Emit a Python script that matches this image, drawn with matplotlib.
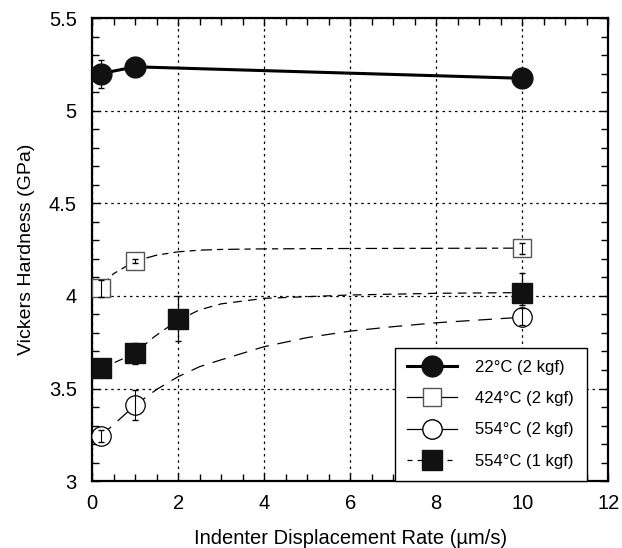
import matplotlib
matplotlib.use('Agg')
import matplotlib.pyplot as plt
from matplotlib.lines import Line2D
import numpy as np

plt.rcParams['font.family'] = ['Liberation Sans', 'DejaVu Sans']

# measured points
x_22 = [0.2, 1.0, 10.0]
y_22 = [5.2, 5.237, 5.175]
e_22 = [0.075, 0.0, 0.0]

x_424 = [0.2, 1.0, 10.0]
y_424 = [4.041, 4.19, 4.257]
e_424 = [0.045, 0.01, 0.028]

x_554_2 = [0.2, 1.0, 10.0]
y_554_2 = [3.245, 3.41, 3.888]
e_554_2 = [0.032, 0.08, 0.045]

x_554_1 = [0.2, 1.0, 2.0, 10.0]
y_554_1 = [3.611, 3.69, 3.877, 4.018]
e_554_1_lo = [0.0, 0.058, 0.118, 0.067]
e_554_1_hi = [0.0, 0.058, 0.122, 0.104]

# fitted curves
fx_424 = [0.2, 0.5, 1.0, 1.5, 2.0, 2.5, 3.0, 4.0, 6.0, 8.0, 10.0]
fy_424 = [4.05, 4.12, 4.188, 4.22, 4.238, 4.247, 4.251, 4.254, 4.256, 4.257, 4.258]

fx_554_1 = [0.2, 0.45, 1.0, 1.2, 1.45, 1.78, 2.0, 2.5, 3.0, 4.0, 6.0, 8.0, 10.0]
fy_554_1 = [3.612, 3.633, 3.69, 3.732, 3.78, 3.834, 3.868, 3.925, 3.957, 3.987, 4.005, 4.014, 4.018]

fx_554_2 = [0.2, 0.5, 1.0, 1.5, 2.0, 2.5, 3.0, 4.0, 5.0, 6.0, 7.0, 8.0, 10.0]
fy_554_2 = [3.245, 3.305, 3.41, 3.495, 3.564, 3.618, 3.655, 3.726, 3.775, 3.81, 3.834, 3.855, 3.885]

labels = ['22\u00b0C (2 kgf)', '424\u00b0C (2 kgf)', '554\u00b0C (2 kgf)', '554\u00b0C (1 kgf)']

fig = plt.figure(figsize=(6.22, 5.48), dpi=100)
ax = fig.add_axes([0.148, 0.122, 0.830, 0.845])

ax.grid(True, which='major', color='black', linestyle=(0, (2, 3)), linewidth=0.9)
ax.set_axisbelow(True)

# fit curves
ax.plot(fx_424, fy_424, color='black', lw=0.9, dashes=(9, 4, 5, 4), zorder=2)
ax.plot(fx_554_1, fy_554_1, color='black', lw=0.9, dashes=(7, 5), zorder=2)
ax.plot(fx_554_2, fy_554_2, color='black', lw=0.9, dashes=(11, 7), zorder=2)

# 22C
ax.plot(x_22, y_22, '-', color='black', lw=2.2, zorder=3)
ax.errorbar(x_22, y_22, yerr=e_22, fmt='none', ecolor='black', elinewidth=0.8, capsize=2.5, zorder=3)
ax.plot(x_22, y_22, 'o', color='#111111', ms=15, zorder=4)

# 424C
ax.plot(x_424, y_424, 's', mfc='white', mec='#555555', mew=1.0, ms=13, zorder=4)
ax.errorbar(x_424, y_424, yerr=e_424, fmt='none', ecolor='black', elinewidth=0.8, capsize=2.5, zorder=5)

# 554C 2 kgf
ax.plot(x_554_2, y_554_2, 'o', mfc='white', mec='black', mew=0.9, ms=14, zorder=4)
ax.errorbar(x_554_2, y_554_2, yerr=e_554_2, fmt='none', ecolor='black', elinewidth=0.8, capsize=2.5, zorder=5)

# 554C 1 kgf
ax.errorbar(x_554_1, y_554_1, yerr=[e_554_1_lo, e_554_1_hi], fmt='none', ecolor='black', elinewidth=0.9, capsize=2.5, zorder=3)
ax.plot(x_554_1, y_554_1, 's', color='#111111', ms=14, zorder=4)

ax.set_xlim(0, 12)
ax.set_ylim(3, 5.5)
ax.set_xticks(np.arange(0, 13, 2))
ax.set_yticks([3, 3.5, 4, 4.5, 5, 5.5])
ax.set_yticklabels(['3', '3.5', '4', '4.5', '5', '5.5'])
ax.set_xticks(np.arange(0, 12.01, 0.5), minor=True)
ax.set_yticks(np.arange(3, 5.501, 0.1), minor=True)
ax.tick_params(which='both', direction='in', top=True, right=True, labelsize=14.5, color='black')
ax.tick_params(which='major', length=6, width=1)
ax.tick_params(axis='x', which='major', pad=9)
ax.tick_params(axis='y', which='major', pad=11)
ax.tick_params(which='minor', length=5, width=1)
for s in ax.spines.values():
    s.set_linewidth(1.6)

ax.set_xlabel('Indenter Displacement Rate (\u00b5m/s)', fontsize=14.5, labelpad=12)
ax.set_ylabel('Vickers Hardness (GPa)', fontsize=14, labelpad=10)

handles = [
    Line2D([], [], color='black', lw=2.2, marker='o', ms=15, mfc='#111111', mec='#111111'),
    Line2D([], [], color='black', lw=0.9, marker='s', ms=13, mfc='white', mec='#555555'),
    Line2D([], [], color='black', lw=0.9, marker='o', ms=14, mfc='white', mec='black'),
    Line2D([], [], color='black', lw=0.9, dashes=(4, 4), marker='s', ms=14, mfc='#111111', mec='#111111'),
]
leg = ax.legend(handles, labels, loc='lower right', bbox_to_anchor=(0.958, 0.0), fontsize=12,
                frameon=True, fancybox=False, edgecolor='black', framealpha=1,
                handlelength=3.0, handletextpad=1.1, borderpad=0.75, labelspacing=0.97,
                borderaxespad=0)
leg.get_frame().set_linewidth(1.0)

fig.savefig('out.png', dpi=100)
